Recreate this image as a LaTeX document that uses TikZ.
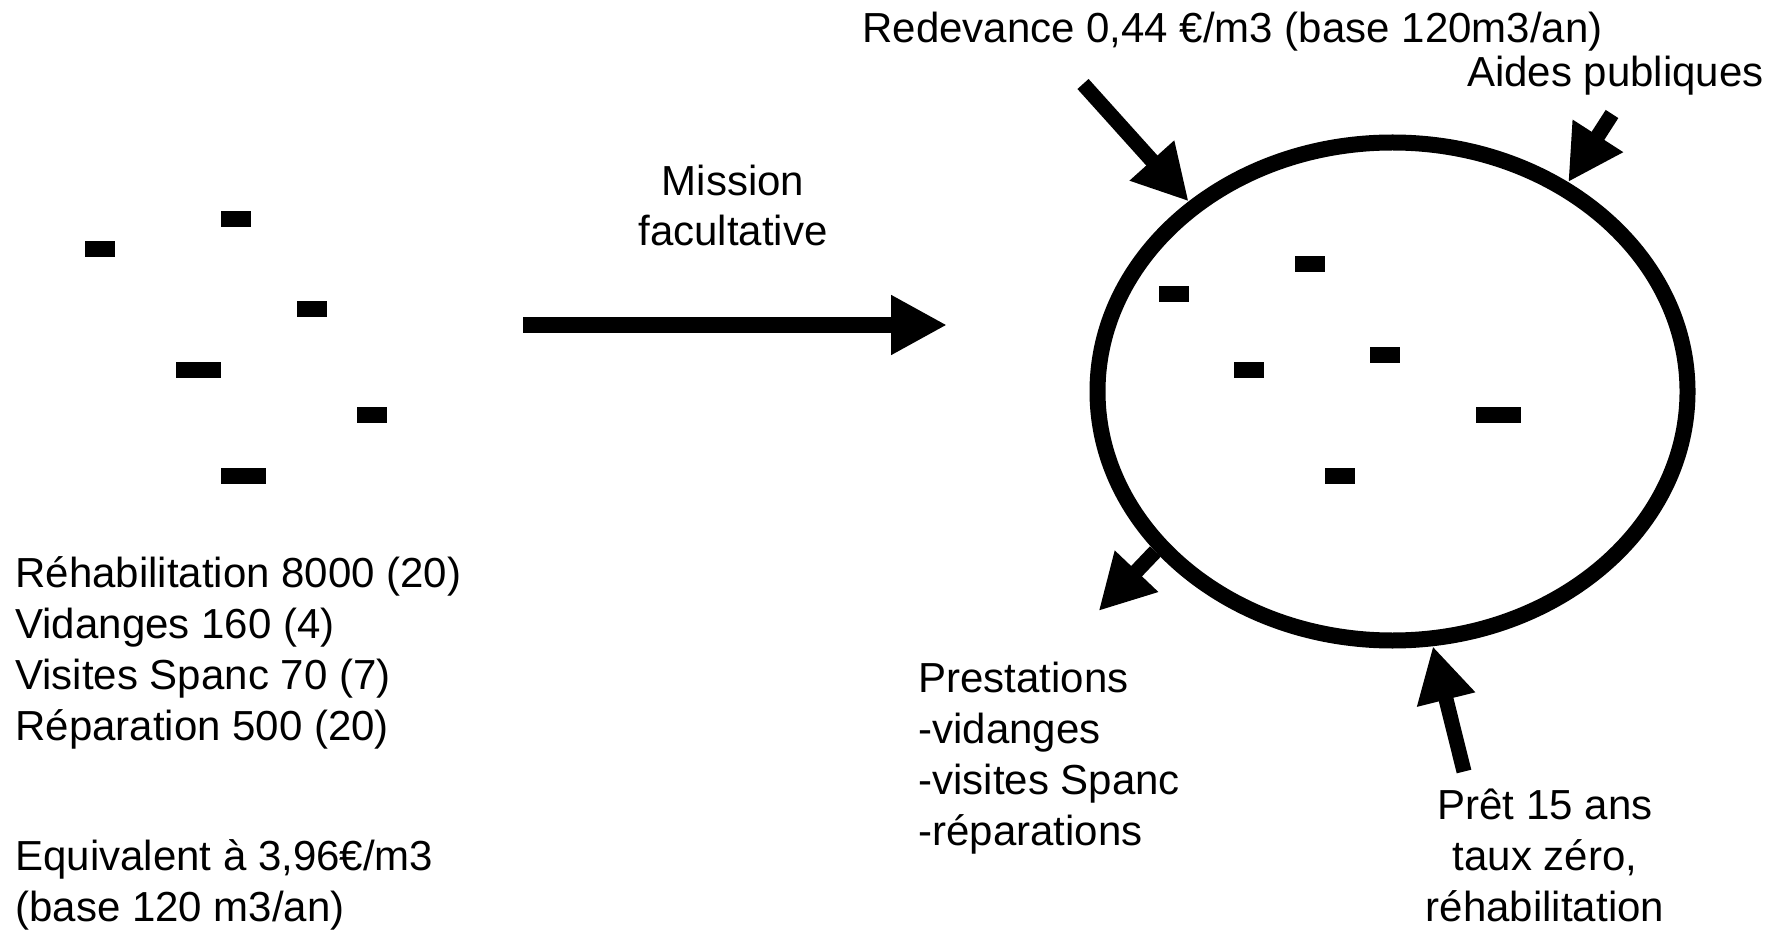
\documentclass[tikz,border=0pt]{standalone}
\usepackage{fontspec}
\setmainfont{Liberation Sans}
\usetikzlibrary{shapes.geometric,arrows.meta,positioning}

\begin{document}
\begin{tikzpicture}[
    x=0.5pt, y=-0.5pt,
    texte/.style={inner sep=0pt, font=\fontsize{21pt}{25.4pt}\selectfont},
    tiret/.style={fill=black},
    ellipsebox/.style={ellipse, draw, line width=8pt, minimum width=295pt, minimum height=249pt, inner sep=0pt},
    fleche/.style={line width=7.5pt, -{Triangle[length=27.5pt, width=28pt]}}
]
\useasboundingbox (0,0) rectangle (1787,930);

% Left: installations before
\fill[tiret] (85,241) rectangle (115,257);
\fill[tiret] (221,211) rectangle (251,227);
\fill[tiret] (297,301) rectangle (327,317);
\fill[tiret] (176,362) rectangle (221,378);
\fill[tiret] (357,407) rectangle (387,423);
\fill[tiret] (221,468) rectangle (266,484);

% (base of a multi-line node = last line)
\node[texte, anchor=base west, align=left] (couts) at (15,740) {R\'ehabilitation 8000 (20)\\Vidanges 160 (4)\\Visites Spanc 70 (7)\\R\'eparation 500 (20)};
\node[texte, anchor=base west, align=left] (equivalent) at (15,921) {Equivalent à 3,96€/m3\\(base 120 m3/an)};

% Middle arrow
\node[texte, anchor=base, align=center] (mission) at (733,246) {Mission\\facultative};
\coordinate (mission-depart) at (523,325);
\coordinate (mission-arrivee) at (947,325);
\draw[line width=8pt, -{Triangle[length=28pt, width=28pt]}] (mission-depart) -- (mission-arrivee);

% Right: the service
\node[ellipsebox] (bassin) at (1392.5,391.5) {};

\fill[tiret] (1159,286) rectangle (1189,302);
\fill[tiret] (1295,256) rectangle (1325,272);
\fill[tiret] (1234,362) rectangle (1264,378);
\fill[tiret] (1370,347) rectangle (1400,363);
\fill[tiret] (1476,407) rectangle (1521,423);
\fill[tiret] (1325,468) rectangle (1355,484);

\node[texte, anchor=base west] (redevance) at (862,43) {Redevance 0,44 €/m3 (base 120m3/an)};
\node[texte, anchor=base east] (aides) at (1764,87) {Aides publiques};
\node[texte, anchor=base west, align=left] (prestations) at (918,845) {Prestations\\-vidanges\\-visites Spanc\\-r\'eparations};
\node[texte, anchor=base, align=center] (pret) at (1545,921) {Pr\^et 15 ans\\taux z\'ero,\\r\'ehabilitation};

% Arrows round the service
\coordinate (redevance-queue) at (1083,84);
\coordinate (aides-queue) at (1612,114);
\coordinate (prestations-pointe) at (1098.6,611);
\coordinate (pret-queue) at (1464,771.5);

\draw[fleche] (redevance-queue) -- (bassin.137);
\draw[fleche] (aides-queue) -- (bassin.50);
\draw[fleche] (bassin.214) -- (prestations-pointe);
\draw[fleche] (pret-queue) -- (bassin.279);

\end{tikzpicture}
\end{document}
